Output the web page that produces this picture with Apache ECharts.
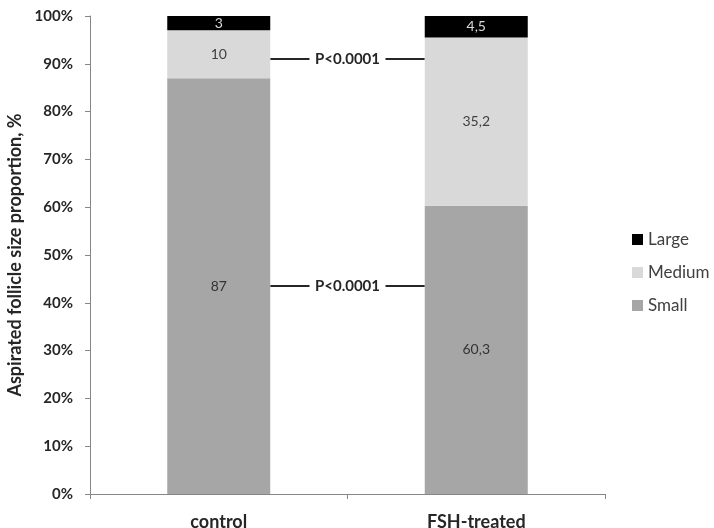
<!DOCTYPE html>
<html>
<head>
<meta charset="utf-8">
<script src="https://cdn.jsdelivr.net/npm/echarts@6/dist/echarts.min.js"></script>
<style>
  html, body { margin: 0; padding: 0; background: #fff; }
  #chart { width: 714px; height: 528px; }
</style>
</head>
<body>
<div id="chart"></div>
<script>
// Follicle size categories per group (percent of aspirated follicles)
const groups = ['control', 'FSH-treated'];
const small = [87, 60.3];
const medium = [10, 35.2];
const large = [3, 4.5];
const yTicks = [0, 10, 20, 30, 40, 50, 60, 70, 80, 90, 100];
// Significance connectors: label and level (%) where the line is drawn
const pNotes = [
  { text: 'P<0.0001', level: 91 },
  { text: 'P<0.0001', level: 43.5 }
];

const FONT = 'Lato, "Open Sans", sans-serif';
const fmt = v => String(v).replace('.', ',');

function seg(name, data, color, labelColor) {
  return {
    name: name,
    type: 'bar',
    stack: 'total',
    barWidth: '40%',
    data: data,
    itemStyle: { color: color },
    label: {
      show: true,
      position: 'inside',
      color: labelColor,
      fontFamily: FONT,
      fontSize: 14,
      formatter: p => fmt(p.value)
    }
  };
}

const chart = echarts.init(document.getElementById('chart'));
chart.setOption({
  animation: false,
  backgroundColor: '#fff',
  grid: { left: 90, right: 109, top: 16, bottom: 34, containLabel: false, outerBoundsMode: 'none' },
  legend: {
    orient: 'vertical',
    left: 627,
    top: 226,
    itemWidth: 11,
    itemHeight: 11,
    itemGap: 16,
    icon: 'rect',
    data: ['Large', 'Medium', 'Small'],
    textStyle: { fontFamily: FONT, fontSize: 17, color: '#404040' }
  },
  xAxis: {
    type: 'category',
    data: groups,
    axisLine: { lineStyle: { color: '#868686', width: 1 } },
    axisTick: { show: true, length: 5, lineStyle: { color: '#868686' } },
    axisLabel: {
      margin: 19,
      fontFamily: FONT,
      fontWeight: 'bold',
      fontSize: 18,
      color: '#262626'
    }
  },
  yAxis: {
    type: 'value',
    min: 0,
    max: 100,
    interval: 10,
    name: 'Aspirated follicle size proportion, %',
    nameLocation: 'middle',
    nameGap: 64,
    nameTextStyle: { fontFamily: FONT, fontWeight: 'bold', fontSize: 18, color: '#262626' },
    axisLine: { show: true, lineStyle: { color: '#868686', width: 1 } },
    axisTick: { show: true, length: 5, lineStyle: { color: '#868686' } },
    splitLine: { show: false },
    axisLabel: {
      margin: 17,
      fontFamily: FONT,
      fontWeight: 'bold',
      fontSize: 15,
      color: '#262626',
      formatter: v => (yTicks.includes(v) ? v + '%' : '')
    }
  },
  series: [
    seg('Small', small, '#a6a6a6', '#333333'),
    seg('Medium', medium, '#d9d9d9', '#404040'),
    seg('Large', large, '#000000', '#d9d9d9')
  ]
});

// Connector lines carrying the significance label between the two bars
const c0 = chart.convertToPixel({ xAxisIndex: 0 }, groups[0]);
const c1 = chart.convertToPixel({ xAxisIndex: 0 }, groups[1]);
const band = c1 - c0;
const x0 = c0 + band * 0.2;
const x1 = c1 - band * 0.2;
const mid = (x0 + x1) / 2;
const elements = [];
pNotes.forEach(n => {
  const y = chart.convertToPixel({ yAxisIndex: 0 }, n.level);
  const halfText = 38;
  elements.push(
    { type: 'line', shape: { x1: x0, y1: y, x2: mid - halfText, y2: y }, style: { stroke: '#262626', lineWidth: 2 } },
    { type: 'line', shape: { x1: mid + halfText, y1: y, x2: x1, y2: y }, style: { stroke: '#262626', lineWidth: 2 } },
    { type: 'text', x: mid, y: y, style: { text: n.text, fontFamily: FONT, fontWeight: 'bold', fontSize: 15, fill: '#262626', align: 'center', verticalAlign: 'middle' } }
  );
});
chart.setOption({ graphic: { elements: elements } });
</script>
</body>
</html>
